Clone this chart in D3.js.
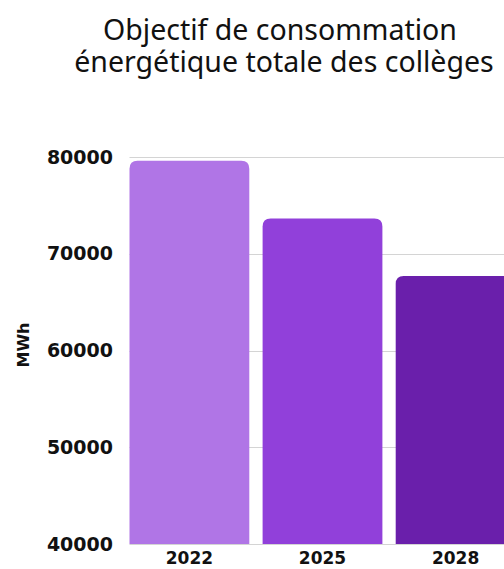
<!DOCTYPE html>
<html lang="fr">
<head>
<meta charset="utf-8">
<title>Objectif de consommation</title>
<style>
  body { margin: 0; background: #fff; }
  .title { font-family: "Noto Sans", sans-serif; font-weight: 400; font-size: 28.5px; fill: #111; }
  .yax .tick text { font-family: "DejaVu Sans", sans-serif; font-weight: bold; font-size: 19px; fill: #111; }
  .xax .tick text { font-family: "DejaVu Sans", sans-serif; font-weight: bold; font-size: 17px; fill: #111; }
  .grid line { stroke: #d4d4d4; stroke-width: 1.2px; }
  .ylab { font-family: "DejaVu Sans", sans-serif; font-weight: bold; font-size: 16px; fill: #111; }
</style>
</head>
<body>
<svg width="504" height="569"></svg>
<script src="https://d3js.org/d3.v7.min.js"></script>
<script>
var years = ["2022", "2025", "2028"];
var conso = [79600, 73650, 67700];
var barColors = ["#b075e6", "#9140da", "#6a1fab"];
var yTicks = [40000, 50000, 60000, 70000, 80000];
var titleLines = ["Objectif de consommation", "énergétique totale des collèges"];

var svg = d3.select("svg");

var plotLeft = 129.5, plotRight = 515.5, plotTop = 157, plotBottom = 544;

var x = d3.scaleBand()
    .domain(years)
    .range([plotLeft, plotRight])
    .paddingInner(0.1)
    .paddingOuter(0);

var y = d3.scaleLinear()
    .domain([40000, 80000])
    .range([plotBottom, plotTop]);

// title
svg.selectAll("text.title")
   .data(titleLines)
   .enter()
   .append("text")
   .attr("class", "title")
   .attr("x", function(d, i) { return i == 0 ? 280 : 284; })
   .attr("y", function(d, i) { return 40 + i * 32; })
   .attr("text-anchor", "middle")
   .text(function(d) { return d; });

// gridlines
svg.append("g")
   .attr("class", "grid")
   .selectAll("line")
   .data(yTicks)
   .enter()
   .append("line")
   .attr("x1", plotLeft)
   .attr("x2", 504)
   .attr("y1", function(d) { return Math.round(y(d)) + 0.5; })
   .attr("y2", function(d) { return Math.round(y(d)) + 0.5; });

// bars with rounded top corners
var r = 8;
function barPath(d, i) {
    var x0 = x(years[i]), w = x.bandwidth(), y0 = y(d), y1 = y(40000);
    return "M" + x0 + "," + y1 +
           "V" + (y0 + r) +
           "Q" + x0 + "," + y0 + " " + (x0 + r) + "," + y0 +
           "H" + (x0 + w - r) +
           "Q" + (x0 + w) + "," + y0 + " " + (x0 + w) + "," + (y0 + r) +
           "V" + y1 + "Z";
}

svg.selectAll("path.bar")
   .data(conso)
   .enter()
   .append("path")
   .attr("class", "bar")
   .attr("fill", function(d, i) { return barColors[i]; })
   .attr("d", barPath);

// y axis
var yAxis = d3.axisLeft(y)
    .tickValues(yTicks)
    .tickSize(0)
    .tickPadding(0)
    .tickFormat(d3.format("d"));

svg.append("g")
   .attr("class", "yax")
   .attr("transform", "translate(113,0)")
   .call(yAxis)
   .call(function(g) { g.select(".domain").remove(); });

// x axis
var xAxis = d3.axisBottom(x).tickSize(0).tickPadding(8);

svg.append("g")
   .attr("class", "xax")
   .attr("transform", "translate(0," + plotBottom + ")")
   .call(xAxis)
   .call(function(g) { g.select(".domain").remove(); });

svg.append("text")
   .attr("class", "ylab")
   .attr("transform", "translate(29,345) rotate(-90)")
   .attr("text-anchor", "middle")
   .text("MWh");
</script>
</body>
</html>
